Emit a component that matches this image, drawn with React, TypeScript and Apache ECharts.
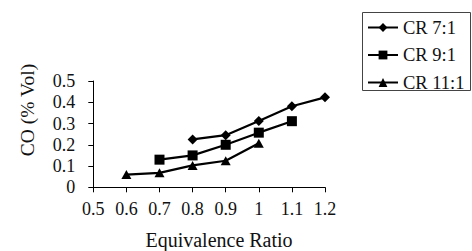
import React, { useEffect, useRef } from "react";
import * as echarts from "echarts";

const ratioTicks = [0.5, 0.6, 0.7, 0.8, 0.9, 1.0, 1.1, 1.2];
const cr7X = [0.8, 0.9, 1.0, 1.1, 1.2];
const cr7Y = [0.225, 0.245, 0.312, 0.381, 0.423];
const cr9X = [0.7, 0.8, 0.9, 1.0, 1.1];
const cr9Y = [0.13, 0.15, 0.2, 0.257, 0.311];
const cr11X = [0.6, 0.7, 0.8, 0.9, 1.0];
const cr11Y = [0.06, 0.068, 0.103, 0.125, 0.207];
const seriesNames = ["CR 7:1", "CR 9:1", "CR 11:1"];
const xTitle = "Equivalence Ratio";
const yTitle = "CO (% Vol)";

const FONT = "'Liberation Serif', 'Times New Roman', serif";

function pairs(xs: number[], ys: number[]) {
  return xs.map((x, i) => [x, ys[i]]);
}

export default function App() {
  const ref = useRef<HTMLDivElement>(null);
  useEffect(() => {
    if (!ref.current) return;
    const chart = echarts.init(ref.current, undefined, { renderer: "svg" });
    const mk = (name: string, data: number[][], symbol: string, size: number | number[]) => ({
      name,
      type: "line",
      data,
      symbol,
      symbolSize: size,
      showAllSymbol: true,
      lineStyle: { color: "#000", width: 2.2 },
      itemStyle: { color: "#000" },
      emphasis: { disabled: true },
    });
    chart.setOption({
      animation: false,
      backgroundColor: "#fff",
      grid: { left: 93.3, top: 81, right: 147, bottom: 63.7 },
      xAxis: {
        type: "value",
        min: ratioTicks[0],
        max: ratioTicks[ratioTicks.length - 1],
        interval: 0.1,
        splitLine: { show: false },
        axisLine: { lineStyle: { color: "#000", width: 1 } },
        axisTick: { show: true, length: 5, lineStyle: { color: "#000" } },
        axisLabel: {
          color: "#111",
          fontFamily: FONT,
          fontSize: 18,
          margin: 13,
          formatter: (v: number) => String(Math.round(v * 10) / 10),
        },
      },
      yAxis: {
        type: "value",
        min: 0,
        max: 0.5,
        interval: 0.1,
        splitLine: { show: false },
        axisLine: { show: true, lineStyle: { color: "#000", width: 1 } },
        axisTick: { show: true, length: 5, lineStyle: { color: "#000" } },
        axisLabel: {
          color: "#111",
          fontFamily: FONT,
          fontSize: 18,
          margin: 18,
          formatter: (v: number) => String(Math.round(v * 10) / 10),
        },
      },
      legend: {
        orient: "vertical",
        left: 367,
        top: 18,
        padding: 0,
        itemWidth: 30,
        itemHeight: 11,
        itemGap: 8.5,
        data: seriesNames,
        textStyle: { color: "#111", fontFamily: FONT, fontSize: 18.5 },
      },
      graphic: [
        {
          type: "rect",
          shape: { x: 362.5, y: 12.5, width: 108, height: 78 },
          style: { fill: "none", stroke: "#444", lineWidth: 1 },
          silent: true,
        },
        {
          type: "text",
          x: 219,
          y: 240,
          style: {
            text: xTitle,
            fill: "#111",
            font: `20px ${FONT}`,
            align: "center",
            verticalAlign: "middle",
          },
        },
        {
          type: "text",
          x: 27,
          y: 110,
          rotation: Math.PI / 2,
          style: {
            text: yTitle,
            fill: "#111",
            font: `19.5px ${FONT}`,
            align: "center",
            verticalAlign: "middle",
          },
        },
      ],
      series: [
        mk(seriesNames[0], pairs(cr7X, cr7Y), "diamond", [10, 10]),
        mk(seriesNames[1], pairs(cr9X, cr9Y), "rect", [10, 10]),
        mk(seriesNames[2], pairs(cr11X, cr11Y), "triangle", [10, 9]),
      ],
    });
    return () => chart.dispose();
  }, []);
  return (
    <div
      ref={ref}
      style={{ position: "fixed", left: 0, top: 0, width: 472, height: 251, background: "#fff" }}
    />
  );
}
